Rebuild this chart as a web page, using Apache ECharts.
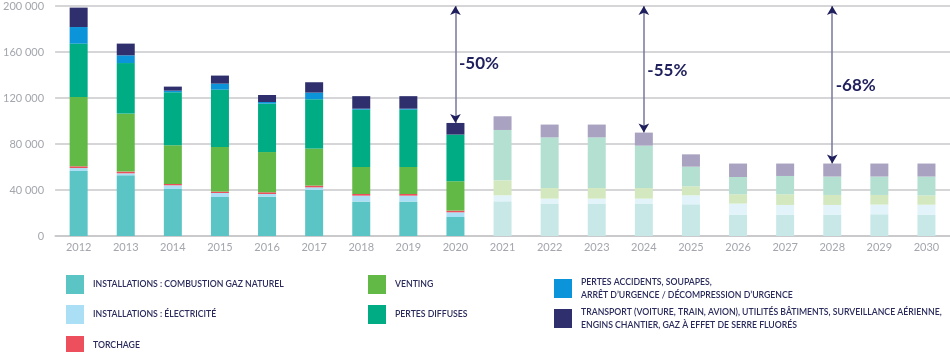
<!DOCTYPE html>
<html><head><meta charset="utf-8">
<script src="https://cdn.jsdelivr.net/npm/echarts@6/dist/echarts.min.js"></script>
<style>html,body{margin:0;padding:0;background:#fff}#c{width:950px;height:352px}</style>
</head><body><div id="c"></div>
<script>
var years = ['2012','2013','2014','2015','2016','2017','2018','2019','2020','2021','2022','2023','2024','2025','2026','2027','2028','2029','2030'];
var yTicks = [0, 40000, 80000, 120000, 160000, 200000];
var combustion = [56500,52800,40900,33900,34200,40000,29900,29900,16500,30200,28200,28200,28200,27600,18600,18600,18600,18900,18600];
var electricite = [2600,1700,3200,3500,2300,2300,5200,5200,4100,5200,4300,4300,4300,7800,9600,8400,8400,8400,8600];
var torchage = [1500,1500,1100,1200,1500,1500,1400,1400,1500,0,0,0,0,0,0,0,0,0,0];
var venting = [60300,50400,33700,38800,35000,32200,23500,23500,25500,13000,9200,9200,9200,7800,8100,9300,8700,8400,8100];
var diffuses = [46400,44000,46100,49900,42100,42900,49900,49900,40600,43800,44100,44100,36900,17100,15000,15900,16000,16000,16400];
var accidents = [14400,6700,1400,5200,1400,5800,800,800,0,0,0,0,0,0,0,0,0,0,0];
var transport = [16900,10200,3500,7000,6100,9000,10900,10900,10100,11900,11100,11100,11300,10700,11700,10800,11300,11300,11300];
var reductions = [['2020', '-50%', 98300, 150000], ['2024', '-55%', 89900, 144000], ['2028', '-68%', 63000, 131000]];
var arrowTop = 200000;

var names = [
  'INSTALLATIONS : COMBUSTION GAZ NATUREL',
  'INSTALLATIONS : ÉLECTRICITÉ',
  'TORCHAGE',
  'VENTING',
  'PERTES DIFFUSES',
  'PERTES ACCIDENTS, SOUPAPES, ARRÊT D’URGENCE / DÉCOMPRESSION D’URGENCE',
  'TRANSPORT (VOITURE, TRAIN, AVION), UTILITÉS BÂTIMENTS, SURVEILLANCE AÉRIENNE, ENGINS CHANTIER, GAZ À EFFET DE SERRE FLUORÉS'
];
var legendText = [
  'INSTALLATIONS : COMBUSTION GAZ NATUREL',
  'INSTALLATIONS : ÉLECTRICITÉ',
  'TORCHAGE',
  'VENTING',
  'PERTES DIFFUSES',
  'PERTES ACCIDENTS, SOUPAPES,\nARRÊT D’URGENCE / DÉCOMPRESSION D’URGENCE',
  'TRANSPORT (VOITURE, TRAIN, AVION), UTILITÉS BÂTIMENTS, SURVEILLANCE AÉRIENNE,\nENGINS CHANTIER, GAZ À EFFET DE SERRE FLUORÉS'
];
var colors = ['#5bc5c6','#abdff5','#ee4f5d','#63b946','#00ac84','#0b94d9','#2e2f6c'];
var faded = ['#c8e8e8','#e2f4fa','#f6c9cd','#d3e8bf','#b4e0d1','#b3dcf2','#a9a2c1'];
var values = [combustion, electricite, torchage, venting, diffuses, accidents, transport];
var firstForecast = 9;

var series = values.map(function (arr, i) {
  return {
    name: names[i], type: 'bar', stack: 'total', barWidth: 18,
    itemStyle: { color: colors[i] },
    data: arr.map(function (v, k) {
      return k >= firstForecast ? { value: v, itemStyle: { color: faded[i] } } : v;
    })
  };
});

function arrowPairs() {
  return reductions.map(function (r) {
    return [{ coord: [r[0], arrowTop] }, { coord: [r[0], r[2]] }];
  });
}

series.push({
  name: 'annotations', type: 'line', data: [], silent: true,
  markLine: {
    silent: true, symbol: ['none', 'none'],
    lineStyle: { color: '#77779d', width: 1.5, type: 'solid' },
    label: { show: false },
    data: arrowPairs()
  },
  markPoint: {
    silent: true, symbol: 'circle', symbolSize: 1, itemStyle: { color: 'rgba(0,0,0,0)' },
    label: { show: true, position: 'right', distance: 3, color: '#1e1f5c', fontSize: 17, fontWeight: 'bold', fontFamily: 'Lato', formatter: function (p) { return p.data.name; } },
    data: reductions.map(function (r) { return { name: r[1], coord: [r[0], r[3]] }; })
  }
});
series.push({
  name: 'arrowheads', type: 'line', data: [], silent: true, z: 3,
  markLine: {
    silent: true, symbol: ['arrow', 'arrow'], symbolSize: [8, 9],
    lineStyle: { color: '#1e1f5c', width: 0, opacity: 1 },
    itemStyle: { color: '#1e1f5c' },
    label: { show: false },
    data: arrowPairs()
  }
});

var legendPos = [[61,270],[61,300],[61,331],[363,270],[363,300],[549,270],[549,300]];
var legends = names.map(function (n, i) {
  return {
    left: legendPos[i][0], top: legendPos[i][1], orient: 'vertical',
    selectedMode: false, icon: 'rect', itemWidth: 18, itemHeight: 19,
    data: [n],
    formatter: function () { return legendText[i]; },
    textStyle: { color: '#2a2b5c', fontSize: 8.7, fontWeight: 600, fontFamily: 'Lato', lineHeight: 12.5, padding: [2, 0, 0, 4] }
  };
});

var chart = echarts.init(document.getElementById('c'));
chart.setOption({
  animation: false,
  grid: { left: 45, right: 0, top: 6, bottom: 116, containLabel: false },
  legend: legends,
  xAxis: {
    type: 'category', data: years,
    axisLine: { lineStyle: { color: '#c6c6c8', width: 1.5 } },
    axisTick: { show: false },
    axisLabel: { color: '#a3a6ad', fontSize: 11, fontFamily: 'Lato', margin: 6 }
  },
  yAxis: {
    type: 'value', min: yTicks[0], max: yTicks[yTicks.length - 1], interval: yTicks[1] - yTicks[0],
    axisLine: { show: false }, axisTick: { show: false },
    splitLine: { lineStyle: { color: '#c9c9cb', width: 1.5 } },
    axisLabel: { color: '#a3a6ad', fontSize: 11, fontFamily: 'Lato', margin: 11,
      formatter: function (v) { return String(v).replace(/\B(?=(\d{3})+(?!\d))/g, ' '); } }
  },
  series: series
});
</script></body></html>
